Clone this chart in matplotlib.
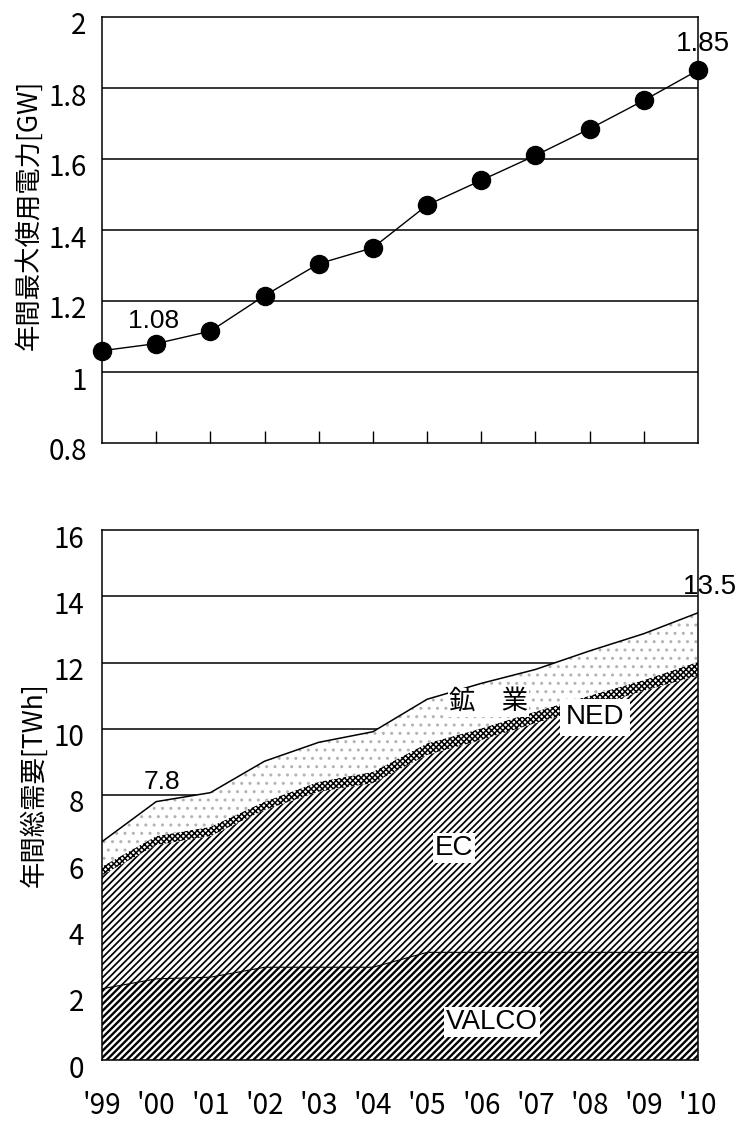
import numpy as np
import matplotlib.pyplot as plt
from matplotlib.transforms import ScaledTranslation

plt.rcParams['font.family'] = ['Noto Sans CJK JP', 'DejaVu Sans']

years = ["'99", "'00", "'01", "'02", "'03", "'04", "'05", "'06", "'07", "'08", "'09", "'10"]

# annual peak demand [GW]
peak_gw = [1.06, 1.08, 1.115, 1.215, 1.305, 1.35, 1.47, 1.54, 1.61, 1.685, 1.765, 1.85]
peak_ticks = [0.8, 1.0, 1.2, 1.4, 1.6, 1.8, 2.0]
peak_ticklabels = ['0.8', '1', '1.2', '1.4', '1.6', '1.8', '2']

# annual total demand [TWh], stacked parts
valco = [2.15, 2.45, 2.5, 2.8, 2.8, 2.8, 3.25, 3.25, 3.25, 3.25, 3.25, 3.25]
ec = [3.43, 4.04, 4.26, 4.75, 5.30, 5.56, 5.96, 6.41, 6.92, 7.40, 7.90, 8.35]
ned = [0.26, 0.27, 0.28, 0.25, 0.30, 0.34, 0.35, 0.35, 0.35, 0.35, 0.32, 0.42]
mining = [0.75, 1.04, 1.03, 1.22, 1.19, 1.21, 1.33, 1.36, 1.27, 1.35, 1.40, 1.48]
demand_ticks = [0, 2, 4, 6, 8, 10, 12, 14, 16]

x = np.arange(len(years))
lab_font = 'Liberation Sans'

fig = plt.figure(figsize=(7.41, 11.22), dpi=100)
ax1 = fig.add_axes([102/741, 1 - 443/1122, 596/741, 426/1122])
ax2 = fig.add_axes([102/741, 1 - 1060/1122, 596/741, 530/1122])

down = ScaledTranslation(0, -0.06, fig.dpi_scale_trans)

# ---- top: peak demand
for yv in peak_ticks[1:-1]:
    ax1.axhline(yv, color='black', lw=1.1, zorder=1)
ax1.plot(x, peak_gw, color='black', lw=1, marker='o', ms=13, clip_on=False, zorder=3)
ax1.set_xlim(0, 11)
ax1.set_ylim(0.8, 2.0)
ax1.set_yticks(peak_ticks)
ax1.set_yticklabels(peak_ticklabels)
ax1.set_xticks(x[1:-1])
ax1.set_xticklabels([])
ax1.tick_params(axis='x', direction='in', length=9, width=1, color='black')
ax1.tick_params(axis='y', length=0, pad=11, labelsize=20)
for lb in ax1.get_yticklabels():
    lb.set_transform(lb.get_transform() + down)
ax1.set_ylabel('年間最大使用電力[GW]', fontsize=19)
ax1.yaxis.set_label_coords(-0.1, 0.535)
ax1.text(x[1] - 0.04, 1.145, '1.08', ha='center', va='center', fontsize=19, family=lab_font)
ax1.text(x[-1] + 0.09, 1.924, '1.85', ha='center', va='center', fontsize=20, family=lab_font)

# ---- bottom: total demand, stacked areas
b1 = np.array(valco)
b2 = b1 + np.array(ec)
b3 = b2 + np.array(ned)
b4 = b3 + np.array(mining)

for yv in demand_ticks[1:-1]:
    ax2.axhline(yv, color='black', lw=1.1, zorder=1)

layers = [
    (0, b1, '/////', 'black', 1.7),
    (b1, b2, '/////', 'black', 1.25),
    (b2, b3, 'xxxxxx', 'black', 1.1),
    (b3, b4, '..', '0.7', 1.0),
]
for lo, hi, hatch, hc, hlw in layers:
    with plt.rc_context({'hatch.linewidth': hlw}):
        coll = ax2.fill_between(x, lo, hi, facecolor='white', edgecolor=hc,
                                hatch=hatch, lw=0, zorder=2)
    if hasattr(coll, 'set_hatch_linewidth'):
        coll.set_hatch_linewidth(hlw)

ax2.plot(x, b1, color='black', lw=0.8, zorder=3)
ax2.plot(x, b4, color='black', lw=1.1, zorder=3)

ax2.set_xlim(0, 11)
ax2.set_ylim(0, 16)
ax2.set_yticks(demand_ticks)
ax2.set_xticks(x)
ax2.set_xticklabels(years)
ax2.tick_params(axis='x', length=0, pad=22, labelsize=20)
ax2.tick_params(axis='y', length=0, pad=13, labelsize=20)
for lb in ax2.get_yticklabels():
    lb.set_transform(lb.get_transform() + down)
ax2.set_ylabel('年間総需要[TWh]', fontsize=19)
ax2.yaxis.set_label_coords(-0.092, 0.52)

white = dict(facecolor='white', edgecolor='none', pad=1.5)
ax2.text(1.11, 8.4, '7.8', ha='center', va='center', fontsize=19, family=lab_font, zorder=4)
ax2.text(11.22, 14.28, '13.5', ha='center', va='center', fontsize=20, family=lab_font,
         zorder=4, clip_on=False)
ax2.text(7.13, 10.8, '鉱　業', ha='center', va='center', fontsize=19,
         bbox=dict(facecolor='white', edgecolor='none', pad=0.5), zorder=4)
ax2.text(9.1, 10.35, 'NED', ha='center', va='center', fontsize=20, family=lab_font,
         bbox=dict(facecolor='white', edgecolor='none', pad=4), zorder=4)
ax2.text(6.5, 6.4, 'EC', ha='center', va='center', fontsize=20, family=lab_font,
         bbox=white, zorder=4)
ax2.text(7.2, 1.15, 'VALCO', ha='center', va='center', fontsize=20, family=lab_font,
         bbox=white, zorder=4)

for ax in (ax1, ax2):
    for sp in ax.spines.values():
        sp.set_linewidth(1.1)
        sp.set_zorder(5)

plt.savefig('out.png', dpi=100)
